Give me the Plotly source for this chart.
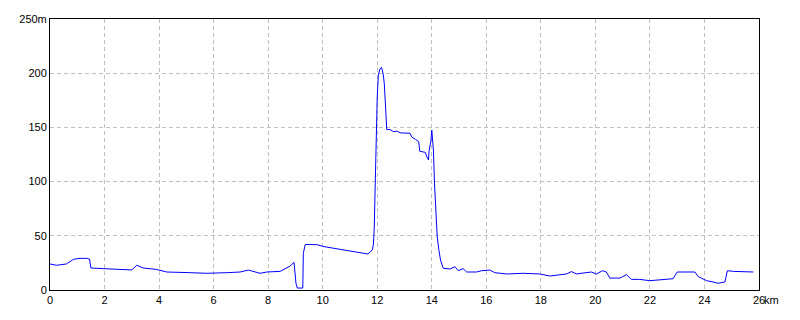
import plotly.graph_objects as go

distance_km = [0, 0.24, 0.6, 0.86, 1.1, 1.35, 1.45, 1.5, 1.95, 2.57, 3.0, 3.18, 3.42, 3.9, 4.28,
               5.13, 5.75, 6.5, 6.97, 7.28, 7.7, 7.95, 8.44, 8.8, 8.95, 9.02, 9.07, 9.27, 9.29,
               9.36, 9.8, 10.05, 10.66, 11.27, 11.66, 11.82, 11.86, 11.89, 11.92, 11.95, 11.97,
               12.0, 12.04, 12.1, 12.16, 12.22, 12.26, 12.3, 12.35, 12.47, 12.6, 12.72, 12.84,
               13.2, 13.27, 13.4, 13.52, 13.56, 13.76, 13.82, 13.88, 13.9, 13.97, 14.0, 14.06,
               14.1, 14.16, 14.2, 14.26, 14.32, 14.42, 14.67, 14.85, 14.97, 15.15, 15.28, 15.64,
               15.83, 16.13, 16.31, 16.74, 17.35, 17.96, 18.33, 18.94, 19.12, 19.3, 19.85, 20.04,
               20.26, 20.4, 20.53, 20.9, 21.14, 21.32, 21.63, 21.99, 22.85, 23.0, 23.65, 23.77,
               24.08, 24.32, 24.5, 24.75, 24.84, 25.06, 25.79]
elevation_m = [24, 22.8, 24, 28.3, 29.2, 29.2, 28.5, 20.3, 19.7, 19, 18.5, 22.8, 20.3, 19, 16.6,
               16, 15.4, 16, 16.6, 18.4, 15.4, 16.6, 17.2, 22, 25.5, 6.2, 1.8, 1.8, 33.8,
               42, 41.8, 40, 37.5, 34.4, 33.2, 37, 42, 57, 101, 134, 161,
               178, 198, 204, 205.4, 199, 190, 166, 148, 148, 146, 146.6, 145,
               144.6, 141, 139, 137, 128, 127, 123, 120, 128, 138, 147.6, 129,
               98, 64.6, 49, 37, 27.7, 20, 19.4, 21.5, 17.8, 19.7, 16.6, 16.6,
               17.8, 18.4, 16, 14.8, 15.4, 14.8, 12.9, 14.8, 17, 14.8, 16.6, 14.8,
               17.8, 16.6, 11, 11, 14.2, 9.8, 9.8, 8.6, 10.4, 16.6, 16.6, 12.3,
               8.6, 7.4, 6.2, 7.4, 17.8, 17.2, 16.6]

x_ticks = [0, 2, 4, 6, 8, 10, 12, 14, 16, 18, 20, 22, 24, 26]
x_labels = ["0", "2", "4", "6", "8", "10", "12", "14", "16", "18", "20", "22", "24", "26"]
y_ticks = [0, 50, 100, 150, 200, 250]
y_labels = ["0", "50", "100", "150", "200", "250m"]

fig = go.Figure()
fig.add_trace(go.Scatter(x=distance_km, y=elevation_m, mode="lines",
                         line=dict(color="#0000ff", width=1), hoverinfo="skip"))

font = dict(family="Liberation Sans, Arial, sans-serif", size=11, color="black")
fig.update_layout(
    width=800, height=320,
    margin=dict(l=50, r=41, t=19, b=30),
    paper_bgcolor="white", plot_bgcolor="white",
    showlegend=False, font=font,
    xaxis=dict(range=[0, 26], tickvals=x_ticks, ticktext=x_labels,
               showgrid=True, gridcolor="#c0c0c0", griddash="4px,3px", gridwidth=1,
               showline=True, linecolor="black", linewidth=1, mirror=True,
               ticks="", zeroline=False, tickfont=font),
    yaxis=dict(range=[0, 250], tickvals=y_ticks, ticktext=y_labels,
               showgrid=True, gridcolor="#c0c0c0", griddash="4px,3px", gridwidth=1,
               showline=True, linecolor="black", linewidth=1, mirror=True,
               ticks="", zeroline=False, tickfont=font),
)
fig.add_annotation(x=26, y=0, xref="x", yref="y", text="km", showarrow=False,
                   xanchor="left", yanchor="top", xshift=3, yshift=-2, font=font)

fig.write_html("out.html")
